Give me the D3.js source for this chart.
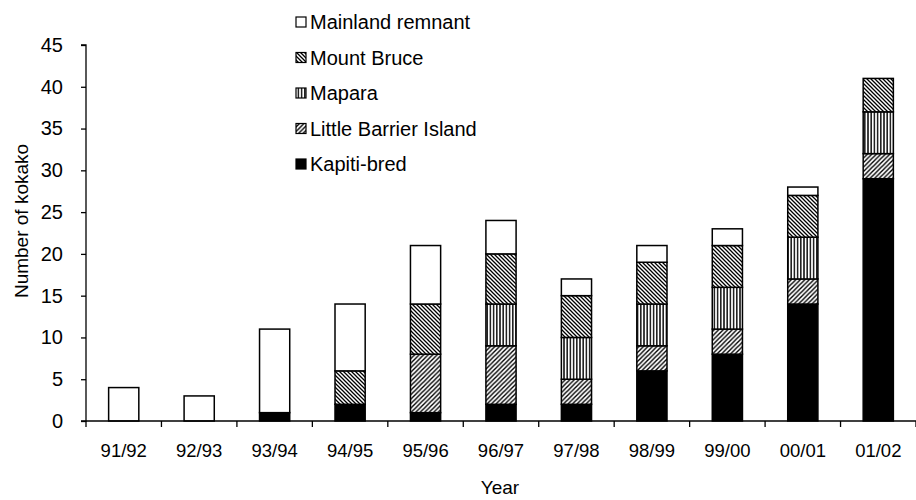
<!DOCTYPE html>
<html><head><meta charset="utf-8">
<script src="https://cdn.jsdelivr.net/npm/d3@7"></script>
<style>body{margin:0;background:#fff}svg{display:block}text{font-family:"Liberation Sans",Arial,sans-serif;fill:#000}</style>
</head><body><svg id="c" width="916" height="500"></svg>
<script>
const years = ["91/92","92/93","93/94","94/95","95/96","96/97","97/98","98/99","99/00","00/01","01/02"];
const kapitiBred = [0,0,1,2,1,2,2,6,8,14,29];
const littleBarrier = [0,0,0,0,7,7,3,3,3,3,3];
const mapara = [0,0,0,0,0,5,5,5,5,5,5];
const mountBruce = [0,0,0,4,6,6,5,5,5,5,4];
const mainland = [4,3,10,8,7,4,2,2,2,1,0];
const seriesNames = ["Kapiti-bred","Little Barrier Island","Mapara","Mount Bruce","Mainland remnant"];
const yTicks = [0,5,10,15,20,25,30,35,40,45];

const svg = d3.select("#c");
const defs = svg.append("defs");
function diag(id, dir, spacing, sw){
  const p = defs.append("pattern").attr("id",id).attr("patternUnits","userSpaceOnUse")
    .attr("width",spacing).attr("height",spacing);
  p.append("rect").attr("width",spacing).attr("height",spacing).attr("fill","#fff");
  if(dir>0){
    p.append("path").attr("d",`M0,${spacing} L${spacing},0 M${-spacing/2},${spacing/2} L${spacing/2},${-spacing/2} M${spacing/2},${spacing*1.5} L${spacing*1.5},${spacing/2}`)
     .attr("stroke","#000").attr("stroke-width",sw);
  } else {
    p.append("path").attr("d",`M0,0 L${spacing},${spacing} M${-spacing/2},${spacing/2} L${spacing/2},${spacing*1.5} M${spacing/2},${-spacing/2} L${spacing*1.5},${spacing/2}`)
     .attr("stroke","#000").attr("stroke-width",sw);
  }
}
diag("pLBI", 1, 4.5, 1.4);
diag("pMB", -1, 4, 1.3);
const pv = defs.append("pattern").attr("id","pMap").attr("patternUnits","userSpaceOnUse").attr("width",3.2).attr("height",4);
pv.append("rect").attr("width",3.2).attr("height",4).attr("fill","#fff");
pv.append("rect").attr("x",0).attr("width",1.6).attr("height",4).attr("fill","#222");

const fills = {"Kapiti-bred":"#000","Little Barrier Island":"url(#pLBI)","Mapara":"url(#pMap)","Mount Bruce":"url(#pMB)","Mainland remnant":"#fff"};

const x0 = 86, x1 = 916, yBase = 421, yTop = 45;
const x = d3.scaleBand().domain(years).range([x0,x1]).paddingInner(0.6).paddingOuter(0.3);
const y = d3.scaleLinear().domain([0,45]).range([yBase,yTop]);

const table = years.map((yr,i)=>({year:yr,"Kapiti-bred":kapitiBred[i],"Little Barrier Island":littleBarrier[i],"Mapara":mapara[i],"Mount Bruce":mountBruce[i],"Mainland remnant":mainland[i]}));
const stack = d3.stack().keys(seriesNames)(table);

const g = svg.append("g");
stack.forEach(s=>{
  g.selectAll(null).data(s.filter(d=>d[1]-d[0]>0)).enter().append("rect")
    .attr("x",d=>x(d.data.year)).attr("width",x.bandwidth())
    .attr("y",d=>y(d[1])).attr("height",d=>y(d[0])-y(d[1]))
    .attr("fill",fills[s.key]).attr("stroke","#000").attr("stroke-width",1.5);
});

const yAxis = d3.axisLeft(y).tickValues(yTicks).tickSize(5).tickPadding(18);
const ya = svg.append("g").attr("transform",`translate(${x0},0)`).call(yAxis);
ya.select(".domain").attr("d",`M-5,${yTop}H0V${yBase}H-5`).attr("stroke","#000").attr("stroke-width",1.3);
ya.selectAll(".tick line").attr("stroke","#000").attr("stroke-width",1.3);
ya.selectAll(".tick text").style("font-size","20px").style("font-family","'Liberation Sans',Arial,sans-serif").attr("fill","#000");

const xAxis = d3.axisBottom(x).tickSize(0).tickPadding(23);
const xa = svg.append("g").attr("transform",`translate(0,${yBase})`).call(xAxis);
xa.select(".domain").attr("d",`M${x0},0H${x1}`).attr("stroke","#000").attr("stroke-width",1.3);
xa.selectAll(".tick text").style("font-size","18.5px").style("font-family","'Liberation Sans',Arial,sans-serif").attr("fill","#000");
const step = x.step();
xa.selectAll(".bound").data(d3.range(years.length+1)).enter().append("line")
  .attr("x1",i=>x0+i*step).attr("x2",i=>x0+i*step).attr("y1",0).attr("y2",6)
  .attr("stroke","#000").attr("stroke-width",1.3);

svg.append("text").attr("x",500).attr("y",494).attr("text-anchor","middle").style("font-size","19px").text("Year");
svg.append("text").attr("transform","translate(28,221) rotate(-90)").attr("text-anchor","middle").style("font-size","19px").text("Number of kokako");

const legendOrder = ["Mainland remnant","Mount Bruce","Mapara","Little Barrier Island","Kapiti-bred"];
const lg = svg.append("g");
legendOrder.forEach((k,i)=>{
  const cy = 22 + i*35.5;
  lg.append("rect").attr("x",296).attr("y",cy-5).attr("width",10).attr("height",10)
    .attr("fill",fills[k]).attr("stroke","#000").attr("stroke-width",1.2);
  lg.append("text").attr("x",310).attr("y",cy+7).style("font-size","20px").text(k);
});
</script></body></html>
